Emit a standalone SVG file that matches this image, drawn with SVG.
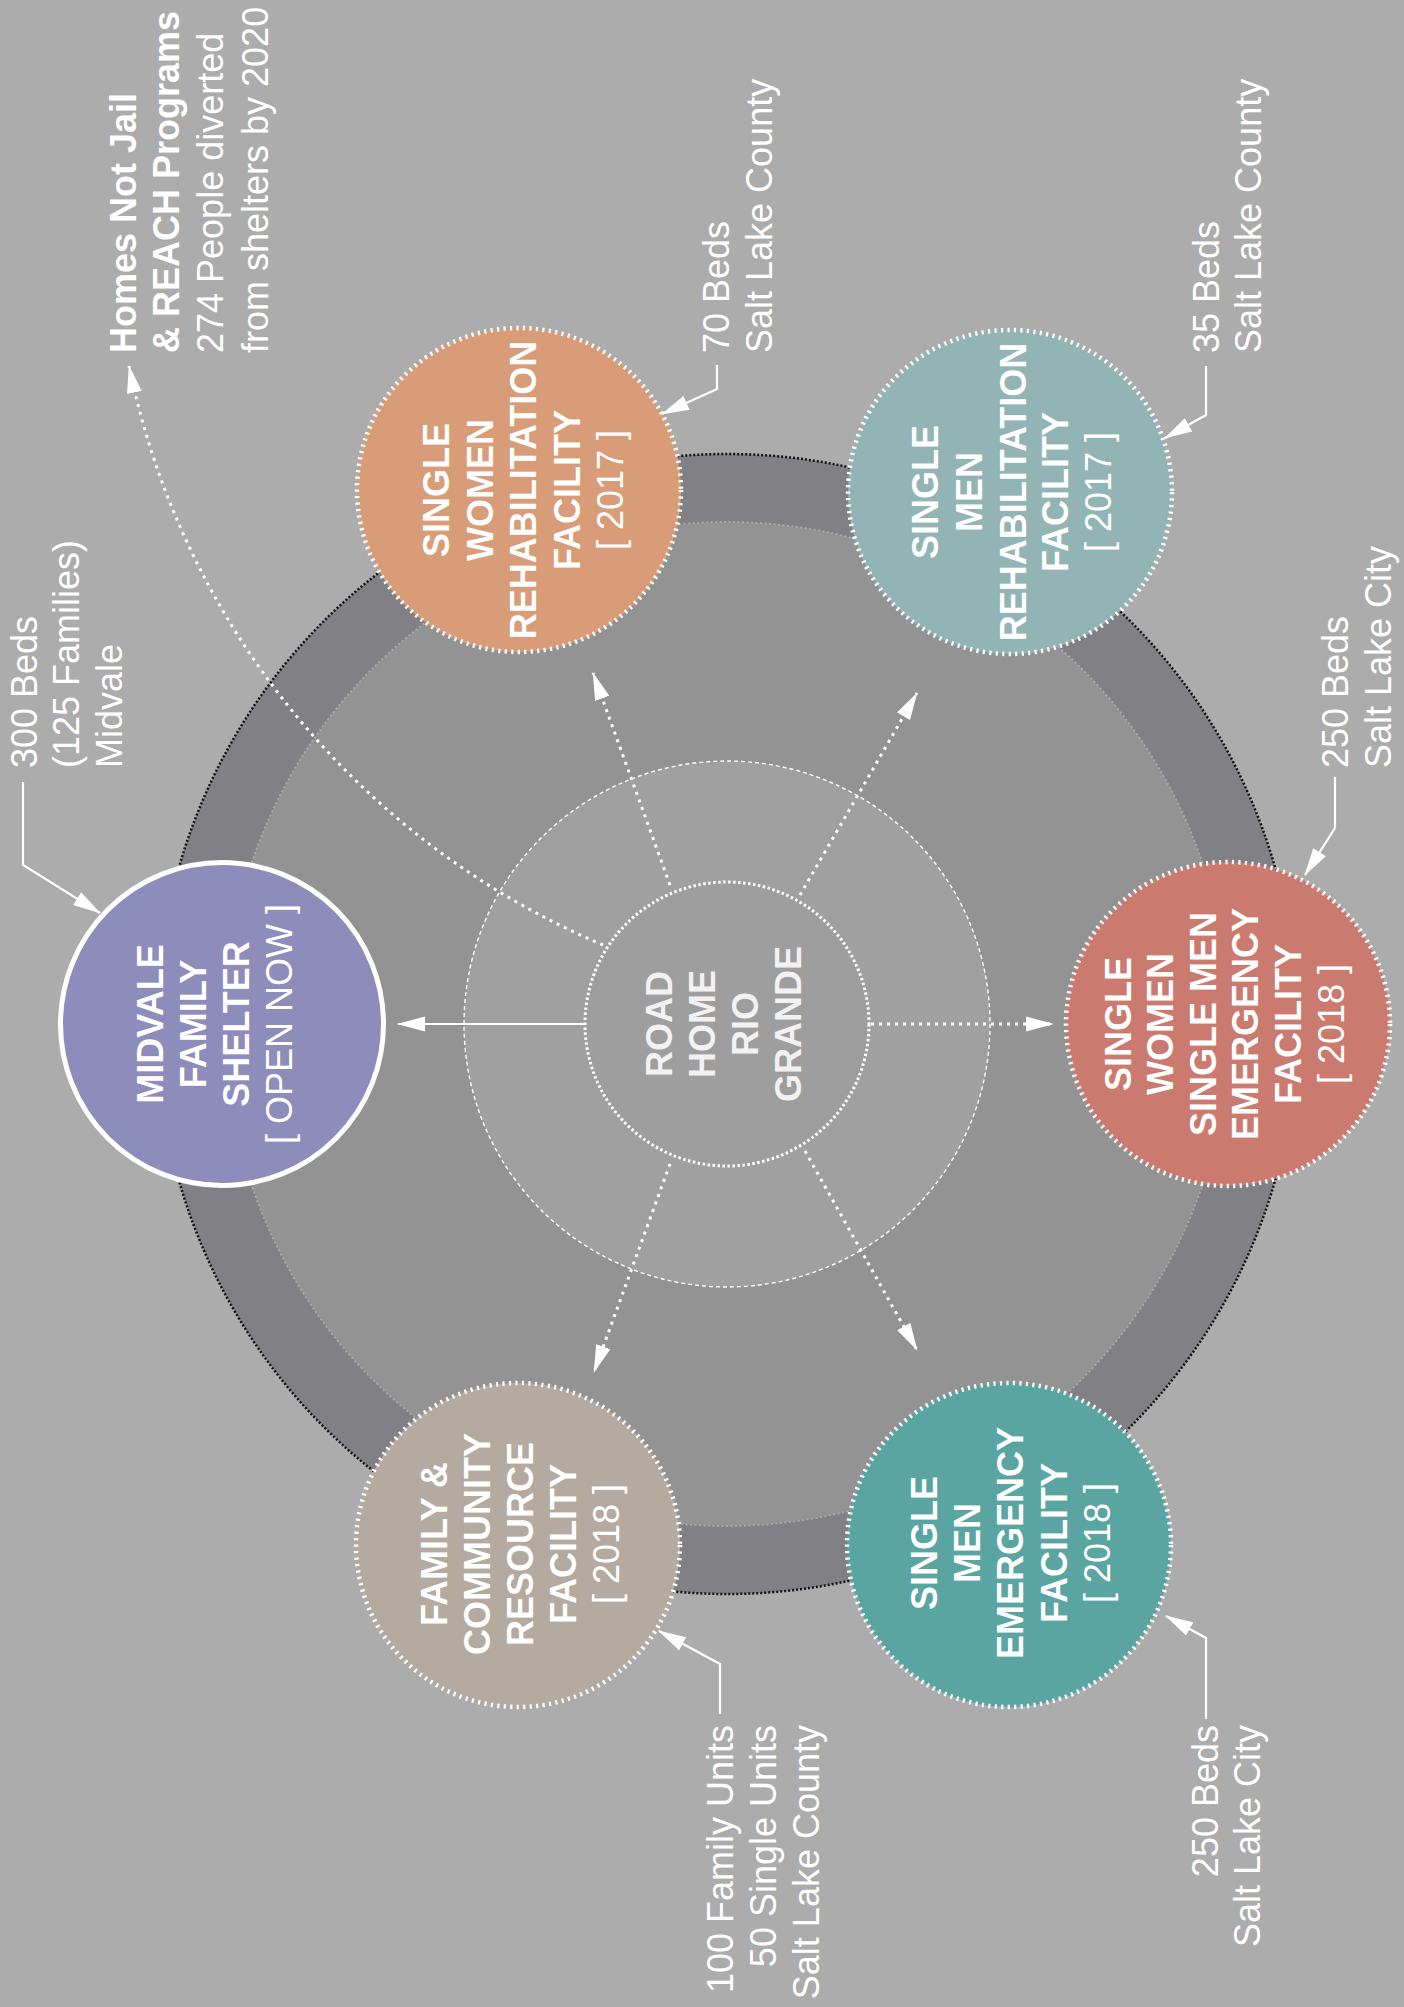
<svg xmlns="http://www.w3.org/2000/svg" width="1404" height="2007" viewBox="0 0 1404 2007">
<style>
text{font-family:"Liberation Sans",Arial,Helvetica,sans-serif;fill:#fff;font-size:36px}
.b{font-weight:bold}
.n{font-weight:bold;text-anchor:middle}
.y{font-weight:normal}
.e{text-anchor:end}
.ctr{fill:#f2f2f2}
.sat{stroke:#fff;stroke-width:4.5;stroke-dasharray:2.2 4.3}
.dot{fill:none;stroke:#fff;stroke-width:3;stroke-dasharray:3 5}
.lead{fill:none;stroke:#fff;stroke-width:2.2}
</style>
<defs>
<marker id="ah" markerUnits="userSpaceOnUse" markerWidth="28" markerHeight="16" refX="27" refY="8" orient="auto">
<path d="M0,0.5 L28,8 L0,15.5 Z" fill="#fff"/>
</marker>
</defs>
<rect width="1404" height="2007" fill="#acacac"/>
<g id="rings">
<circle cx="727" cy="1024" r="570" fill="#818185" stroke="#111" stroke-width="2.5" stroke-dasharray="2 2"/>
<circle cx="727" cy="1024" r="502" fill="#939393" stroke="#ababab" stroke-width="1.8" stroke-dasharray="2 2.5"/>
<circle cx="727" cy="1024" r="263" fill="#a0a0a0" stroke="#fff" stroke-width="1.4" stroke-dasharray="4 3"/>
<circle cx="727" cy="1024" r="142" fill="#9e9e9e" stroke="#fff" stroke-width="3" stroke-dasharray="2.5 2.5"/>
</g>
<g id="connectors">
<path class="lead" d="M585,1024 H398" marker-end="url(#ah)"/>
<path class="dot" d="M871,1024 H1053" marker-end="url(#ah)"/>
<path class="dot" d="M670,885 L593,673" marker-end="url(#ah)"/>
<path class="dot" d="M800,895 L917,693" marker-end="url(#ah)"/>
<path class="dot" d="M670,1164 L594,1372" marker-end="url(#ah)"/>
<path class="dot" d="M805,1151 L917,1350" marker-end="url(#ah)"/>
<path class="dot" d="M603,945 A805,805 0 0 1 129,366" marker-end="url(#ah)"/>
<path class="lead" d="M23,782 V865 L100,913" marker-end="url(#ah)"/>
<path class="lead" d="M717,365 V389 L662,414" marker-end="url(#ah)"/>
<path class="lead" d="M1206,366 V415 L1165,438" marker-end="url(#ah)"/>
<path class="lead" d="M1335,777 V828 L1305,875" marker-end="url(#ah)"/>
<path class="lead" d="M720,1714 V1664 L659,1631" marker-end="url(#ah)"/>
<path class="lead" d="M1206,1719 V1638 L1166,1616" marker-end="url(#ah)"/>
</g>
<g id="road-home">
<text class="n ctr" transform="translate(672,1024) rotate(-90)"><tspan x="0" y="0">ROAD</tspan><tspan x="0" y="43">HOME</tspan><tspan x="0" y="86">RIO</tspan><tspan x="0" y="129">GRANDE</tspan></text>
</g>
<g id="midvale">
<circle cx="222" cy="1024" r="161.5" fill="#8d8cbb" stroke="#fff" stroke-width="5"/>
<text class="n" transform="translate(163,1024) rotate(-90)"><tspan x="0" y="0">MIDVALE</tspan><tspan x="0" y="43">FAMILY</tspan><tspan x="0" y="86">SHELTER</tspan><tspan class="y" x="0" y="129">[ OPEN NOW ]</tspan></text>
</g>
<g id="sw-rehab">
<circle class="sat" cx="519" cy="490" r="162" fill="#d89c78"/>
<text class="n" transform="translate(449,490) rotate(-90)"><tspan x="0" y="0">SINGLE</tspan><tspan x="0" y="44">WOMEN</tspan><tspan x="0" y="87">REHABILITATION</tspan><tspan x="0" y="131">FACILITY</tspan><tspan class="y" x="0" y="174">[ 2017 ]</tspan></text>
</g>
<g id="sm-rehab">
<circle class="sat" cx="1010" cy="492" r="162" fill="#93b4b5"/>
<text class="n" transform="translate(938,492) rotate(-90)"><tspan x="0" y="0">SINGLE</tspan><tspan x="0" y="44">MEN</tspan><tspan x="0" y="88">REHABILITATION</tspan><tspan x="0" y="130">FACILITY</tspan><tspan class="y" x="0" y="173">[ 2017 ]</tspan></text>
</g>
<g id="swsm-emergency">
<circle class="sat" cx="1228" cy="1024" r="162" fill="#cb7a70"/>
<text class="n" transform="translate(1131,1024) rotate(-90)"><tspan x="0" y="0">SINGLE</tspan><tspan x="0" y="42">WOMEN</tspan><tspan x="0" y="85">SINGLE MEN</tspan><tspan x="0" y="127">EMERGENCY</tspan><tspan x="0" y="170">FACILITY</tspan><tspan class="y" x="0" y="213">[ 2018 ]</tspan></text>
</g>
<g id="sm-emergency">
<circle class="sat" cx="1009" cy="1545" r="162" fill="#5aa5a2"/>
<text class="n" transform="translate(937,1543) rotate(-90)"><tspan x="0" y="0">SINGLE</tspan><tspan x="0" y="43">MEN</tspan><tspan x="0" y="86">EMERGENCY</tspan><tspan x="0" y="130">FACILITY</tspan><tspan class="y" x="0" y="173">[ 2018 ]</tspan></text>
</g>
<g id="family">
<circle class="sat" cx="518" cy="1545" r="162" fill="#b4aaa0"/>
<text class="n" transform="translate(447,1544) rotate(-90)"><tspan x="0" y="0">FAMILY &amp;</tspan><tspan x="0" y="43">COMMUNITY</tspan><tspan x="0" y="86">RESOURCE</tspan><tspan x="0" y="129">FACILITY</tspan><tspan class="y" x="0" y="172">[ 2018 ]</tspan></text>
</g>
<g id="labels">
<text transform="translate(37,768) rotate(-90)"><tspan x="0" y="0">300 Beds</tspan><tspan x="0" y="42">(125 Families)</tspan><tspan x="0" y="85">Midvale</tspan></text>
<text transform="translate(136,353) rotate(-90)"><tspan class="b" x="0" y="0">Homes Not Jail</tspan><tspan class="b" x="0" y="43">&amp; REACH Programs</tspan><tspan x="0" y="87">274 People diverted</tspan><tspan x="0" y="132">from shelters by 2020</tspan></text>
<text transform="translate(729,353) rotate(-90)"><tspan x="0" y="0">70 Beds</tspan><tspan x="0" y="43">Salt Lake County</tspan></text>
<text transform="translate(1219,353) rotate(-90)"><tspan x="0" y="0">35 Beds</tspan><tspan x="0" y="42">Salt Lake County</tspan></text>
<text transform="translate(1348,768) rotate(-90)"><tspan x="0" y="0">250 Beds</tspan><tspan x="0" y="43">Salt Lake City</tspan></text>
<text class="e" transform="translate(733,1725) rotate(-90)"><tspan x="0" y="0">100 Family Units</tspan><tspan x="0" y="43">50 Single Units</tspan><tspan x="0" y="86">Salt Lake County</tspan></text>
<text class="e" transform="translate(1218,1725) rotate(-90)"><tspan x="0" y="0">250 Beds</tspan><tspan x="0" y="42">Salt Lake City</tspan></text>
</g>
</svg>
